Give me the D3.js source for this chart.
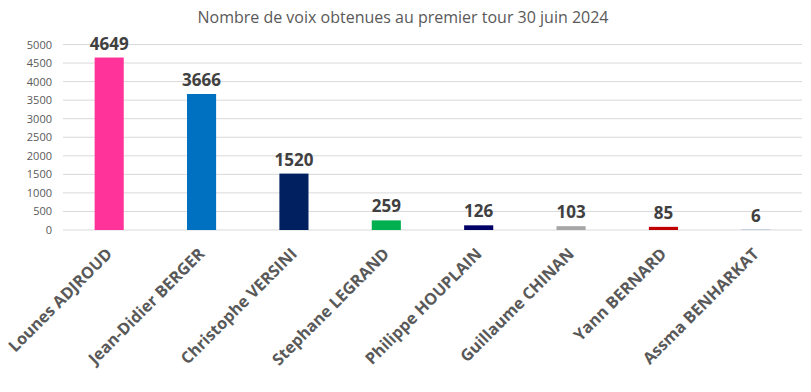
<!DOCTYPE html>
<html>
<head>
<meta charset="utf-8">
<script src="https://cdn.jsdelivr.net/npm/d3@7"></script>
<style>
  body { margin: 0; background: #fff; }
  .chart text { font-family: "Open Sans", sans-serif; }
</style>
</head>
<body>
<div class="chart"></div>
<script>
// chart data
var candidates = ["Lounes ADJROUD", "Jean-Didier BERGER", "Christophe VERSINI", "Stephane LEGRAND",
  "Philippe HOUPLAIN", "Guillaume CHINAN", "Yann BERNARD", "Assma BENHARKAT"];
var votes = [4649, 3666, 1520, 259, 126, 103, 85, 6];
var barColors = ["#FF3399", "#0070C0", "#002060", "#00B050", "#000066", "#A6A6A6", "#C00000", "#4472C4"];
var yTicks = [0, 500, 1000, 1500, 2000, 2500, 3000, 3500, 4000, 4500, 5000];

var svgWidth = 811;
var svgHeight = 392;

var svg = d3.select(".chart")
  .append("svg")
  .attr("width", svgWidth)
  .attr("height", svgHeight);

// scales
var xScale = d3.scaleBand()
  .domain(candidates)
  .range([63, 802])
  .paddingInner(0.685)
  .paddingOuter(0.3425);

var yScale = d3.scaleLinear()
  .domain([0, 5000])
  .range([230, 44.5]);

// title
svg.append("text")
  .attr("x", 403)
  .attr("y", 23)
  .attr("text-anchor", "middle")
  .attr("font-size", "16px")
  .attr("fill", "#595959")
  .text("Nombre de voix obtenues au premier tour 30 juin 2024");

// gridlines
svg.append("g")
  .selectAll("line")
  .data(yTicks)
  .enter()
  .append("line")
  .attr("x1", 63)
  .attr("x2", 802)
  .attr("y1", d => yScale(d))
  .attr("y2", d => yScale(d))
  .attr("stroke", "#d9d9d9")
  .attr("stroke-width", 1);

// y axis labels
var leftAxis = d3.axisLeft(yScale)
  .tickValues(yTicks)
  .tickFormat(d3.format("d"))
  .tickSize(0)
  .tickPadding(0);
var yAxis = svg.append("g")
  .attr("transform", "translate(52, 0)")
  .call(leftAxis);
yAxis.select(".domain").remove();
yAxis.selectAll("text")
  .attr("font-size", "11px")
  .attr("font-family", "Open Sans, sans-serif")
  .attr("fill", "#595959");

// bars
svg.append("g")
  .selectAll("rect")
  .data(votes)
  .enter()
  .append("rect")
  .attr("x", (d, i) => xScale(candidates[i]))
  .attr("y", d => yScale(d))
  .attr("width", xScale.bandwidth())
  .attr("height", d => yScale(0) - yScale(d))
  .attr("fill", (d, i) => barColors[i]);

// value labels
svg.append("g")
  .selectAll("text")
  .data(votes)
  .enter()
  .append("text")
  .attr("x", (d, i) => xScale(candidates[i]) + xScale.bandwidth() / 2)
  .attr("y", d => yScale(d) - 8)
  .attr("text-anchor", "middle")
  .attr("font-size", "17px")
  .attr("font-weight", "bold")
  .attr("fill", "#404040")
  .text(d => d);

// x labels, rotated
svg.append("g")
  .selectAll("text")
  .data(candidates)
  .enter()
  .append("text")
  .attr("transform", d => `translate(${xScale(d) + xScale.bandwidth() / 2 + 4}, 255) rotate(-45)`)
  .attr("text-anchor", "end")
  .attr("font-size", "16.2px")
  .attr("font-weight", "bold")
  .attr("fill", "#595959")
  .text(d => d);
</script>
</body>
</html>
